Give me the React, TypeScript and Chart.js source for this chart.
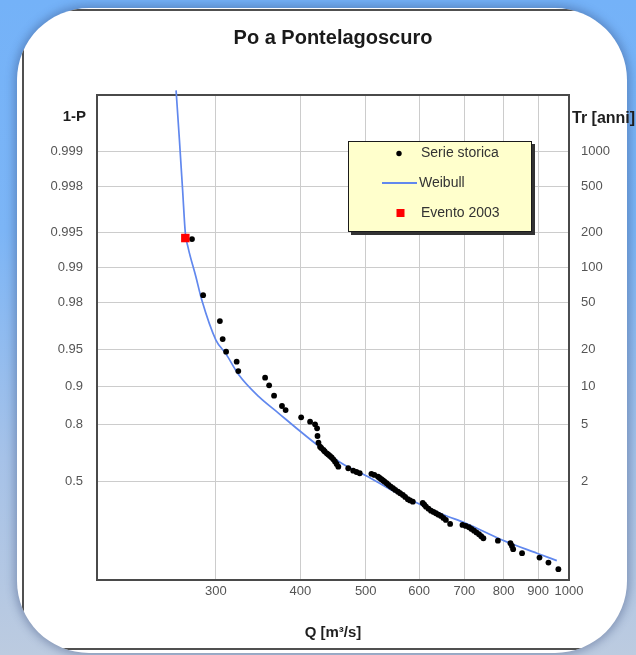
import React, { useEffect, useRef } from "react";
import { Chart, registerables } from "chart.js";

Chart.register(...registerables);

const FONT = "'Liberation Sans', Arial, Helvetica, sans-serif";

const TITLE = "Po a Pontelagoscuro";
const X_TITLE = "Q [m³/s]";
const LEFT_HEADER = "1-P";
const RIGHT_HEADER = "Tr [anni]";

const X_MIN = 200;
const X_MAX = 1000;
const X_TICKS = [300, 400, 500, 600, 700, 800, 900, 1000];

// 1-P axis (left) and return period axis (right)
const PROB_TICKS = [0.999, 0.998, 0.995, 0.99, 0.98, 0.95, 0.9, 0.8, 0.5];
const PROB_LABELS = ["0.999", "0.998", "0.995", "0.99", "0.98", "0.95", "0.9", "0.8", "0.5"];
const TR_TICKS = [1000, 500, 200, 100, 50, 20, 10, 5, 2];

// reduced-variate limits of the plot (Gumbel paper)
const Y_MIN = -1.59;
const Y_MAX = 8.02;

const SERIES_LABEL = "Serie storica";
const SERIES_Q = [
  276.5, 287.2, 304.1, 307.0, 310.6, 322.0, 323.8, 354.8, 359.7, 365.8, 375.8, 380.5,
  401.2, 413.6, 420.7, 423.6, 424.2, 425.6, 427.9, 429.7, 432.9, 434.8, 437.8, 440.0,
  442.6, 445.2, 447.7, 450.2, 452.8, 455.4, 471.1, 479.1, 484.5, 489.9, 509.8, 515.0,
  521.5, 524.4, 527.4, 530.5, 533.3, 537.0, 540.6, 544.6, 548.8, 553.0, 558.1, 562.3,
  567.5, 572.0, 577.2, 581.7, 587.1, 607.3, 610.6, 614.1, 619.3, 624.6, 630.0, 635.2,
  640.7, 646.2, 651.6, 657.1, 666.8, 695.4, 703.3, 711.1, 717.2, 723.4, 729.4, 735.7,
  741.3, 746.8, 784.7, 819.0, 823.2, 826.6, 852.1, 904.3, 932.3, 964.4,
];
const SERIES_P = [
  0.9943, 0.9828, 0.9714, 0.9594, 0.9482, 0.9372, 0.9249, 0.9148, 0.9016, 0.8805, 0.8555, 0.8445,
  0.8227, 0.8082, 0.7991, 0.7845, 0.7537, 0.7241, 0.7051, 0.6987, 0.6886, 0.681, 0.6715, 0.6651,
  0.657, 0.6487, 0.6386, 0.626, 0.6113, 0.595, 0.5852, 0.57, 0.5617, 0.5534, 0.55, 0.5423,
  0.531, 0.5223, 0.5136, 0.5054, 0.4972, 0.4861, 0.4743, 0.4623, 0.451, 0.4389, 0.4267, 0.4151,
  0.4028, 0.3883, 0.3715, 0.3628, 0.354, 0.3446, 0.3315, 0.3178, 0.3034, 0.2891, 0.2799, 0.2708,
  0.261, 0.252, 0.2384, 0.225, 0.1989, 0.1926, 0.1864, 0.1784, 0.1681, 0.1582, 0.148, 0.138,
  0.1274, 0.1172, 0.1056, 0.0938, 0.0824, 0.0696, 0.0559, 0.043, 0.031, 0.0191,
];

const WEIBULL_LABEL = "Weibull";
const WEIBULL_Q = [
  261.9, 264.9, 267.8, 270.3, 272.7, 280.2, 285.9, 300.0, 310.1, 324.5, 347.3, 371.6,
  397.8, 420.7, 460.5, 504.1, 545.6, 597.0, 653.4, 703.2, 796.2, 896.4, 959.2,
];
const WEIBULL_P = [
  0.9997, 0.9992, 0.99784, 0.99493, 0.99336, 0.98802, 0.98104, 0.95863, 0.9465, 0.91897, 0.87827, 0.83502,
  0.77794, 0.72137, 0.61551, 0.5309, 0.4388, 0.34253, 0.25898, 0.20355, 0.10894, 0.05596, 0.03543,
];

const EVENT_LABEL = "Evento 2003";
const EVENT_Q = [270.3];
const EVENT_P = [0.99442];

const SERIES_COLOR = "#000000";
const WEIBULL_COLOR = "#6188ee";
const EVENT_COLOR = "#ff0000";

const gumbel = (p: number) => -Math.log(-Math.log(p));

const decorPlugin = {
  id: "decor",
  beforeDatasetsDraw(chart: any) {
    const { ctx, chartArea: a } = chart;
    ctx.save();
    ctx.strokeStyle = "#4a4a4a";
    ctx.lineWidth = 2;
    ctx.strokeRect(a.left, a.top, a.right - a.left, a.bottom - a.top);
    ctx.restore();
  },
  afterDraw(chart: any) {
    const { ctx, chartArea: a } = chart;
    ctx.save();
    // axis headers
    ctx.fillStyle = "#1e1e1e";
    ctx.textBaseline = "middle";
    ctx.font = `bold 15px ${FONT}`;
    ctx.textAlign = "right";
    ctx.fillText(LEFT_HEADER, a.left - 11, a.top + 22);
    ctx.font = `bold 16px ${FONT}`;
    ctx.textAlign = "left";
    ctx.fillText(RIGHT_HEADER, a.right + 3, a.top + 24);

    // legend box
    const bx = a.left + 251;
    const by = a.top + 46;
    const bw = 184;
    const bh = 91;
    ctx.fillStyle = "#333333";
    ctx.fillRect(bx + 3, by + 3, bw, bh);
    ctx.fillStyle = "#ffffcc";
    ctx.fillRect(bx, by, bw, bh);
    ctx.strokeStyle = "#1a1a1a";
    ctx.lineWidth = 1;
    ctx.strokeRect(bx + 0.5, by + 0.5, bw - 1, bh - 1);

    const ds = chart.data.datasets;
    const rows = [by + 12.5, by + 42, by + 72];
    const textX = bx + 73;
    ctx.font = `14px ${FONT}`;
    ctx.textAlign = "left";
    ctx.textBaseline = "middle";

    // serie storica
    ctx.fillStyle = SERIES_COLOR;
    ctx.beginPath();
    ctx.arc(bx + 51, rows[0], 2.7, 0, Math.PI * 2);
    ctx.fill();
    ctx.fillStyle = "#333333";
    ctx.fillText(ds[0].label, textX, rows[0]);

    // weibull
    ctx.strokeStyle = WEIBULL_COLOR;
    ctx.lineWidth = 2;
    ctx.beginPath();
    ctx.moveTo(bx + 34, rows[1]);
    ctx.lineTo(bx + 69, rows[1]);
    ctx.stroke();
    ctx.fillStyle = "#333333";
    ctx.fillText(ds[1].label, textX - 2, rows[1]);

    // evento
    ctx.fillStyle = EVENT_COLOR;
    ctx.fillRect(bx + 48.5, rows[2] - 4, 8, 8);
    ctx.fillStyle = "#333333";
    ctx.fillText(ds[2].label, textX, rows[2]);

    ctx.restore();
  },
};

export default function App() {
  const ref = useRef<HTMLCanvasElement>(null);

  useEffect(() => {
    const canvas = ref.current;
    if (!canvas) return;

    const seriesData = SERIES_Q.map((q, i) => ({ x: q, y: gumbel(SERIES_P[i]) }));
    const weibullData = WEIBULL_Q.map((q, i) => ({ x: q, y: gumbel(WEIBULL_P[i]) }));
    const eventData = EVENT_Q.map((q, i) => ({ x: q, y: gumbel(EVENT_P[i]) }));

    const probValues = PROB_TICKS.map((p) => gumbel(p));
    const trValues = TR_TICKS.map((t) => gumbel(1 - 1 / t));

    const tickFont = { family: FONT, size: 13 };
    const tickColor = "#555555";
    const gridColor = "#cccccc";

    const chart = new Chart(canvas, {
      type: "scatter",
      data: {
        datasets: [
          {
            label: SERIES_LABEL,
            data: seriesData,
            pointRadius: 2.9,
            pointHoverRadius: 2.9,
            pointBackgroundColor: SERIES_COLOR,
            pointBorderWidth: 0,
            borderColor: SERIES_COLOR,
            order: 1,
          },
          {
            label: WEIBULL_LABEL,
            data: weibullData,
            showLine: true,
            pointRadius: 0,
            borderColor: WEIBULL_COLOR,
            borderWidth: 1.7,
            cubicInterpolationMode: "monotone",
            clip: false,
            order: 2,
          } as any,
          {
            label: EVENT_LABEL,
            data: eventData,
            pointStyle: "rect",
            pointRadius: 6,
            pointHoverRadius: 6,
            pointBackgroundColor: EVENT_COLOR,
            pointBorderWidth: 0,
            borderColor: EVENT_COLOR,
            order: 0,
          },
        ],
      },
      options: {
        animation: false,
        responsive: false,
        maintainAspectRatio: false,
        events: [],
        layout: { padding: 0 },
        plugins: {
          legend: { display: false },
          tooltip: { enabled: false },
          title: {
            display: true,
            text: TITLE,
            fullSize: false,
            color: "#1a1a1a",
            font: { family: FONT, size: 20, weight: "bold" },
            padding: { top: 26, bottom: 45 },
          },
        },
        scales: {
          x: {
            type: "logarithmic",
            position: "bottom",
            min: X_MIN,
            max: X_MAX,
            afterBuildTicks: (s: any) => {
              s.ticks = X_TICKS.map((v) => ({ value: v }));
            },
            afterFit: (s: any) => {
              s.height = 75;
            },
            ticks: {
              autoSkip: false,
              maxRotation: 0,
              padding: 4,
              color: tickColor,
              font: tickFont,
              callback: (v: any) => String(v),
            },
            grid: { color: gridColor, lineWidth: 1, drawTicks: false },
            border: { display: false },
            title: {
              display: true,
              text: X_TITLE,
              color: "#1e1e1e",
              font: { family: FONT, size: 15, weight: "bold" },
              padding: { top: 0, bottom: 13 },
            },
          },
          y: {
            type: "linear",
            position: "left",
            min: Y_MIN,
            max: Y_MAX,
            afterBuildTicks: (s: any) => {
              s.ticks = probValues.map((v) => ({ value: v }));
            },
            afterFit: (s: any) => {
              s.width = 97;
            },
            ticks: {
              autoSkip: false,
              padding: 14,
              color: tickColor,
              font: tickFont,
              callback: (v: any) => {
                const i = probValues.findIndex((p) => Math.abs(p - v) < 1e-9);
                return i >= 0 ? PROB_LABELS[i] : "";
              },
            },
            grid: { color: gridColor, lineWidth: 1, drawTicks: false },
            border: { display: false },
          },
          y2: {
            type: "linear",
            position: "right",
            min: Y_MIN,
            max: Y_MAX,
            afterBuildTicks: (s: any) => {
              s.ticks = trValues.map((v) => ({ value: v }));
            },
            afterFit: (s: any) => {
              s.width = 67;
            },
            ticks: {
              autoSkip: false,
              padding: 12,
              color: tickColor,
              font: tickFont,
              callback: (v: any) => {
                const i = trValues.findIndex((p) => Math.abs(p - v) < 1e-9);
                return i >= 0 ? String(TR_TICKS[i]) : "";
              },
            },
            grid: { display: false, drawTicks: false },
            border: { display: false },
          },
        },
      } as any,
      plugins: [decorPlugin],
    });

    return () => chart.destroy();
  }, []);

  return (
    <div
      style={{
        position: "fixed",
        left: 0,
        top: 0,
        width: 636,
        height: 655,
        overflow: "hidden",
        background:
          "linear-gradient(180deg, #74b2f8 0%, #7cb5f6 35%, #a6c2e8 70%, #bccbe0 100%)",
      }}
    >
      <div
        style={{
          position: "absolute",
          left: 17,
          top: 8,
          width: 610,
          height: 645,
          borderRadius: 72,
          background: "#ffffff",
          overflow: "hidden",
          boxShadow: "0 0 9px 3px rgba(40,60,110,0.35)",
        }}
      >
        <div
          style={{
            position: "absolute",
            left: 5,
            top: 1,
            width: 700,
            height: 641,
            boxSizing: "border-box",
            borderTop: "2px solid #505050",
            borderLeft: "2px solid #505050",
            borderBottom: "2px solid #505050",
          }}
        />
      </div>
      <canvas
        ref={ref}
        width={636}
        height={655}
        style={{ position: "absolute", left: 0, top: 0, width: 636, height: 655 }}
      />
    </div>
  );
}
